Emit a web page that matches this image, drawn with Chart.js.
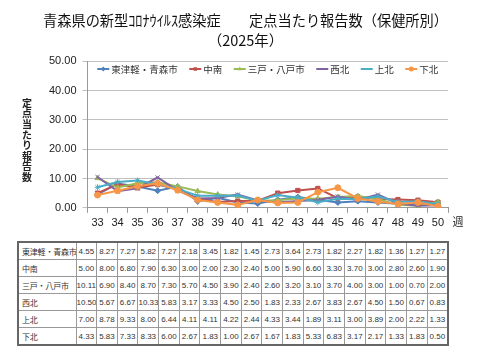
<!DOCTYPE html>
<html>
<head>
<meta charset="utf-8">
<script src="https://cdn.jsdelivr.net/npm/chart.js@4.4.1/dist/chart.umd.min.js"></script>
<style>
    body { margin: 0; background: #fff; }
    #wrap { position: relative; width: 480px; height: 360px; }
    #chart { position: absolute; left: 0; top: 0; }
    #tbl {
        position: absolute; left: 17px; top: 241px; width: 432px;
        border-collapse: collapse; border: 2px solid #666; table-layout: fixed;
        font-family: "Liberation Sans", sans-serif; color: #333;
    }
    #tbl td { border: 1px solid #999; height: 16px; padding: 0; text-align: center; font-size: 8px; white-space: nowrap; overflow: hidden; }
    #tbl td.name { text-align: left; padding-left: 3px; font-family: "Noto Sans CJK JP"; font-size: 8px; letter-spacing: -0.2px; }
</style>
</head>
<body>
<div id="wrap">
    <canvas id="chart" width="480" height="240"></canvas>
    <table id="tbl"></table>
</div>
<script>
// weeks (x axis)
const weeks = ['33', '34', '35', '36', '37', '38', '39', '40', '41', '42', '43', '44', '45', '46', '47', '48', '49', '50'];

// health centre names
const areas = ['東津軽・青森市', '中南', '三戸・八戸市', '西北', '上北', '下北'];

// reports per sentinel site, one array per area
const higashiTsugaru = [4.55, 8.27, 7.27, 5.82, 7.27, 2.18, 3.45, 1.82, 1.45, 2.73, 3.64, 2.73, 1.82, 2.27, 1.82, 1.36, 1.27, 1.27];
const chunan = [5.00, 8.00, 6.80, 7.90, 6.30, 3.00, 2.00, 2.30, 2.40, 5.00, 5.90, 6.60, 3.30, 3.70, 3.00, 2.80, 2.60, 1.90];
const sannohe = [10.11, 6.90, 8.40, 8.70, 7.30, 5.70, 4.50, 3.90, 2.40, 2.60, 3.20, 3.10, 3.70, 4.00, 3.00, 1.00, 0.70, 2.00];
const seihoku = [10.50, 5.67, 6.67, 10.33, 5.83, 3.17, 3.33, 4.50, 2.50, 1.83, 2.33, 2.67, 3.83, 2.67, 4.50, 1.50, 0.67, 0.83];
const kamikita = [7.00, 8.78, 9.33, 8.00, 6.44, 4.11, 4.11, 4.22, 2.44, 4.33, 3.44, 1.89, 3.11, 3.00, 3.89, 2.00, 2.22, 1.33];
const shimokita = [4.33, 5.83, 7.33, 8.33, 6.00, 2.67, 1.83, 1.00, 2.67, 1.67, 1.83, 5.33, 6.83, 3.17, 2.17, 1.33, 1.83, 0.50];

const yTicks = [0, 10, 20, 30, 40, 50];

const seriesValues = [higashiTsugaru, chunan, sannohe, seihoku, kamikita, shimokita];
const colors = ['#4F81BD', '#C0504D', '#9BBB59', '#8064A2', '#4BACC6', '#F79646'];
const markers = ['rectRot', 'rect', 'triangle', 'crossRot', 'star', 'circle'];

const jpFont = '"Noto Sans CJK JP", sans-serif';
const numFont = '"Liberation Sans", sans-serif';

// extra drawing: vertical y title, "週" label, legend inside the plot
const extras = {
    id: 'extras',
    afterDraw: (chart) => {
        const ctx = chart.ctx;
        const area = chart.chartArea;
        ctx.save();
        ctx.fillStyle = '#222';
        ctx.textAlign = 'center';
        ctx.textBaseline = 'middle';

        ctx.font = 'bold 10px ' + jpFont;
        const yTitle = '定点当たり報告数';
        for (let i = 0; i < yTitle.length; i++) {
            ctx.fillText(yTitle[i], 27, 103 + i * 10.6);
        }

        ctx.font = '11px ' + jpFont;
        ctx.fillText('週', 458, 222);

        // legend
        ctx.font = '9.5px ' + jpFont;
        const lineW = 12, gap = 2, itemGap = 11.5;
        const items = chart.data.datasets;
        let total = 0;
        items.forEach((ds, i) => {
            total += lineW + gap + ctx.measureText(ds.label).width;
            if (i < items.length - 1) total += itemGap;
        });
        let x = (area.left + area.right) / 2 - total / 2;
        const y = 69;
        ctx.textAlign = 'left';
        items.forEach((ds) => {
            ctx.strokeStyle = ds.borderColor;
            ctx.lineWidth = 2;
            ctx.beginPath();
            ctx.moveTo(x, y);
            ctx.lineTo(x + lineW, y);
            ctx.stroke();
            ctx.fillStyle = ds.borderColor;
            ctx.lineWidth = 1;
            Chart.helpers.drawPoint(ctx, { pointStyle: ds.pointStyle, radius: 2.5, rotation: 0 }, x + lineW / 2, y);
            ctx.fillStyle = '#333';
            ctx.fillText(ds.label, x + lineW + gap, y + 0.5);
            x += lineW + gap + ctx.measureText(ds.label).width + itemGap;
        });
        ctx.restore();
    }
};

const datasets = areas.map((name, i) => ({
    label: name,
    data: seriesValues[i],
    borderColor: colors[i],
    backgroundColor: colors[i],
    borderWidth: 2,
    pointStyle: markers[i],
    pointRadius: 3,
    pointBorderWidth: 1,
    order: areas.length - i
}));

const chart = new Chart(document.getElementById('chart'), {
    type: 'line',
    data: { labels: weeks, datasets: datasets },
    options: {
        responsive: false,
        animation: false,
        layout: { padding: { left: 43, right: 32, bottom: 6, top: 0 } },
        plugins: {
            legend: { display: false },
            tooltip: { enabled: false },
            title: {
                display: true,
                text: ['青森県の新型ｺﾛﾅｳｲﾙｽ感染症　　定点当たり報告数（保健所別）', '（2025年）'],
                color: '#111',
                font: { family: jpFont, size: 14.5, weight: 'normal', lineHeight: 1.35 },
                padding: { top: 11, bottom: 11 }
            }
        },
        scales: {
            x: {
                offset: true,
                grid: { display: true, drawOnChartArea: false, drawTicks: true, tickLength: 5, color: '#999', offset: true },
                border: { color: '#999' },
                ticks: { color: '#222', font: { family: numFont, size: 11 }, padding: 4, maxRotation: 0, autoSkip: false }
            },
            y: {
                min: 0,
                max: 50,
                afterBuildTicks: (scale) => { scale.ticks = yTicks.map(v => ({ value: v })); },
                grid: { color: '#c0c0c0', tickLength: 5 },
                border: { color: '#999' },
                ticks: { color: '#222', font: { family: numFont, size: 11 }, padding: 6, callback: (v) => v.toFixed(2) }
            }
        }
    },
    plugins: [extras]
});

// data table under the chart
const tbl = document.getElementById('tbl');
let html = '<colgroup><col style="width:58px">';
weeks.forEach(() => { html += '<col>'; });
html += '</colgroup>';
areas.forEach((name, i) => {
    html += '<tr><td class="name">' + name + '</td>';
    seriesValues[i].forEach(v => { html += '<td>' + v.toFixed(2) + '</td>'; });
    html += '</tr>';
});
tbl.innerHTML = html;
</script>
</body>
</html>
